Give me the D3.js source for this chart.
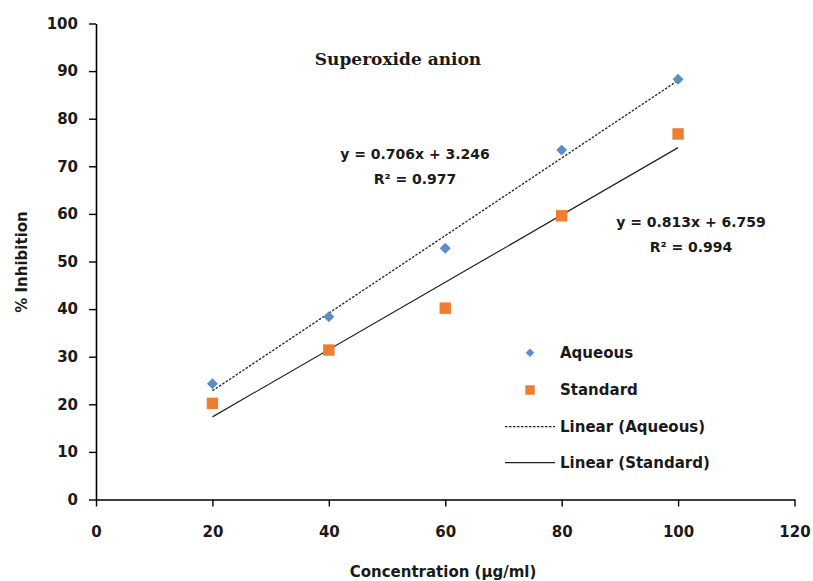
<!DOCTYPE html>
<html>
<head>
<meta charset="utf-8">
<script src="https://cdn.jsdelivr.net/npm/d3@7"></script>
<style>
  html, body { margin: 0; padding: 0; background: #fff; }
  svg { display: block; }
  text { font-family: "DejaVu Sans", sans-serif; font-weight: bold; fill: #1a1a1a; }
</style>
</head>
<body>
<svg id="chart" width="813" height="581"></svg>
<script>
// ---- data ----
const concentrations = [20, 40, 60, 80, 100];
const aqueousValues = [24.3, 38.4, 52.8, 73.4, 88.3];
const standardValues = [20.2, 31.4, 40.2, 59.6, 76.8];
const xTicks = [0, 20, 40, 60, 80, 100, 120];
const yTicks = [0, 10, 20, 30, 40, 50, 60, 70, 80, 90, 100];
const titleText = "Superoxide anion";
const xLabel = "Concentration (µg/ml)";
const yLabel = "% Inhibition";
const eqTexts = [["y = 0.706x + 3.246", "R² = 0.977"], ["y = 0.813x + 6.759", "R² = 0.994"]];
const legendLabels = ["Aqueous", "Standard", "Linear (Aqueous)", "Linear (Standard)"];

const svg = d3.select("#chart");
const x = d3.scaleLinear().domain([0, 120]).range([96, 794.5]);
const y = d3.scaleLinear().domain([0, 100]).range([499.5, 23.5]);

const blue = "#5a8ec4";
const orange = "#ed7d31";

// axes
const yAxis = d3.axisLeft(y).tickValues(yTicks).tickSize(7).tickSizeOuter(0).tickPadding(11);
const xAxis = d3.axisBottom(x).tickValues(xTicks).tickSize(7).tickSizeOuter(0).tickPadding(20);

const gy = svg.append("g").attr("transform", `translate(${x(0)},0)`).call(yAxis);
const gx = svg.append("g").attr("transform", `translate(0,${y(0)})`).call(xAxis);
[gx, gy].forEach(g => {
  g.select(".domain").attr("stroke", "#000").attr("stroke-width", 1.6);
  g.selectAll(".tick line").attr("stroke", "#000").attr("stroke-width", 1.4);
  g.selectAll(".tick text").attr("font-family", "DejaVu Sans").attr("font-weight", "bold")
    .attr("font-size", 15).attr("fill", "#1a1a1a");
});

// regression
function fit(xs, ys) {
  const mx = d3.mean(xs), my = d3.mean(ys);
  const sxy = d3.sum(xs, (v, i) => (v - mx) * (ys[i] - my));
  const sxx = d3.sum(xs, v => (v - mx) * (v - mx));
  const m = sxy / sxx;
  return { m, b: my - m * mx };
}
const fa = fit(concentrations, aqueousValues);
const fs = fit(concentrations, standardValues);
const xMin = d3.min(concentrations), xMax = d3.max(concentrations);
const line = d3.line().x(d => x(d[0])).y(d => y(d[1]));

svg.append("path")
  .attr("d", line([[xMin, fa.m * xMin + fa.b], [xMax, fa.m * xMax + fa.b]]))
  .attr("stroke", "#222").attr("stroke-width", 1.3).attr("stroke-dasharray", "2.5,1.5").attr("fill", "none");
svg.append("path")
  .attr("d", line([[xMin, fs.m * xMin + fs.b], [xMax, fs.m * xMax + fs.b]]))
  .attr("stroke", "#222").attr("stroke-width", 1.2).attr("fill", "none");

// points
const diamond = d3.symbol(d3.symbolSquare, 60);
const square = d3.symbol(d3.symbolSquare, 130);
svg.selectAll(".aq").data(concentrations).join("path")
  .attr("d", diamond)
  .attr("transform", (d, i) => `translate(${x(d)},${y(aqueousValues[i])}) rotate(45)`)
  .attr("fill", blue);
svg.selectAll(".st").data(concentrations).join("path")
  .attr("d", square)
  .attr("transform", (d, i) => `translate(${x(d)},${y(standardValues[i])})`)
  .attr("fill", orange);

// title
svg.append("text").attr("x", 398).attr("y", 65).attr("text-anchor", "middle")
  .style("font-family", "'DejaVu Serif', serif").attr("font-size", 17).text(titleText);

// equations
const eqPos = [[415, 159, 184], [691, 227, 252]];
eqTexts.forEach((t, i) => {
  svg.append("text").attr("x", eqPos[i][0]).attr("y", eqPos[i][1]).attr("text-anchor", "middle")
    .attr("font-size", 14).text(t[0]);
  svg.append("text").attr("x", eqPos[i][0]).attr("y", eqPos[i][2]).attr("text-anchor", "middle")
    .attr("font-size", 14).text(t[1]);
});

// axis labels
svg.append("text").attr("x", 443).attr("y", 577).attr("text-anchor", "middle")
  .attr("font-size", 15).text(xLabel);
svg.append("text").attr("transform", "translate(27,262) rotate(-90)").attr("text-anchor", "middle")
  .attr("font-size", 15).text(yLabel);

// legend
const legY = [352.7, 390, 426.7, 462.7];
const lg = svg.append("g");
legendLabels.forEach((lab, i) => {
  lg.append("text").attr("x", 560).attr("y", legY[i]).attr("dy", "0.35em")
    .attr("font-size", 15).text(lab);
});
lg.append("path").attr("d", d3.symbol(d3.symbolSquare, 36))
  .attr("transform", `translate(530,${legY[0]}) rotate(45)`).attr("fill", blue);
lg.append("path").attr("d", d3.symbol(d3.symbolSquare, 90))
  .attr("transform", `translate(530,${legY[1]})`).attr("fill", orange);
lg.append("line").attr("x1", 505).attr("x2", 555).attr("y1", legY[2]).attr("y2", legY[2])
  .attr("stroke", "#222").attr("stroke-width", 1.2).attr("stroke-dasharray", "2.5,1.5");
lg.append("line").attr("x1", 505).attr("x2", 555).attr("y1", legY[3]).attr("y2", legY[3])
  .attr("stroke", "#222").attr("stroke-width", 1.2);
</script>
</body>
</html>
